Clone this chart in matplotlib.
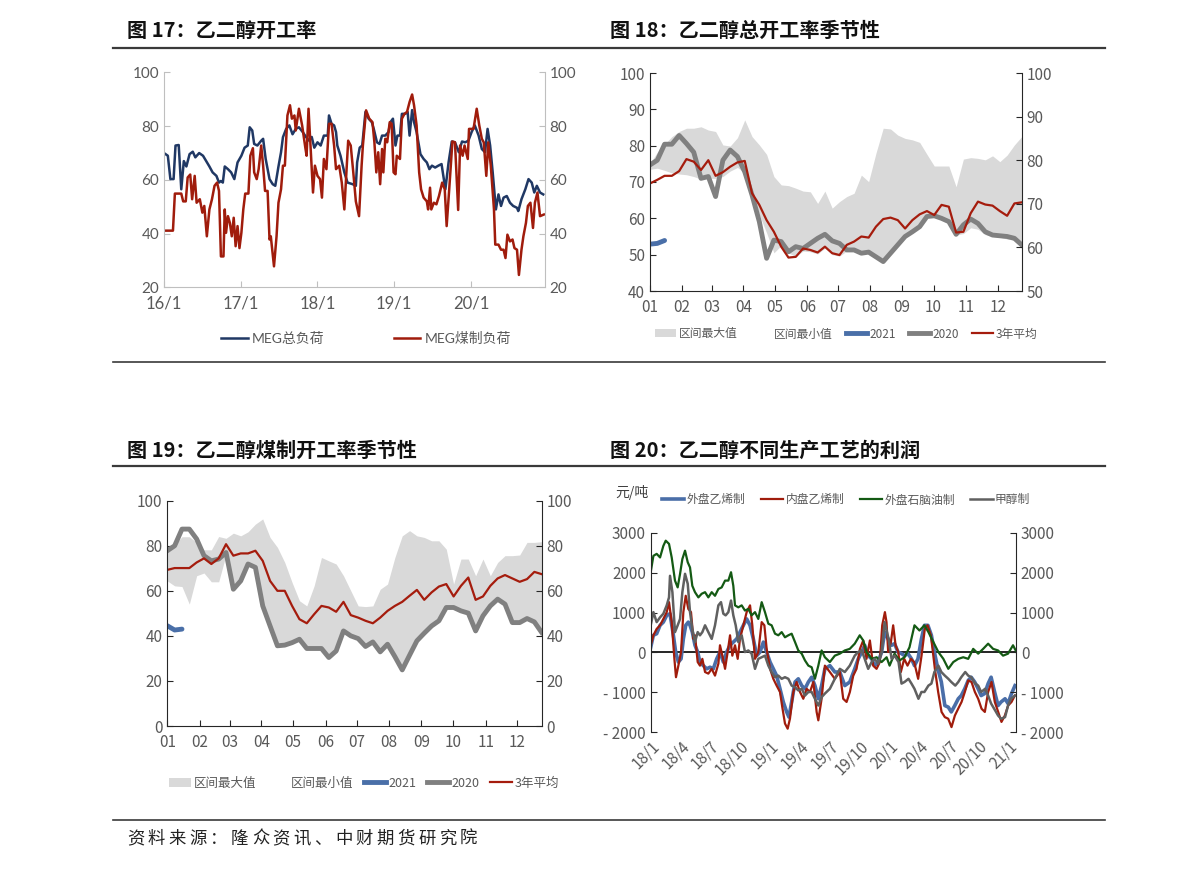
import numpy as np
import matplotlib
matplotlib.use('Agg')
import matplotlib.pyplot as plt
from matplotlib.lines import Line2D
from matplotlib.patches import Patch

plt.rcParams['font.family'] = ['Noto Sans CJK SC', 'DejaVu Sans']

W, H = 1191, 871
TXT = '#595959'
NUM1 = ['Lato', 'Noto Sans CJK SC']
NARROW = ['Liberation Sans Narrow', 'Noto Sans CJK SC']

# ---- 图17 data: months since 2016-01 ----
meg_total_x = [0, 0.6, 1.0, 1.5, 1.8, 2.3, 2.5, 2.7, 3.1, 3.5, 4.0, 4.5, 4.9, 5.5, 6.1, 6.6, 7.1, 7.6, 8.2, 8.6,
               8.9, 9.2, 9.5, 10.0, 10.5, 11.0, 11.5, 12.1, 12.6, 13.1, 13.4, 13.8, 14.1, 14.6, 15.2, 15.5, 15.9, 16.5, 17.0, 17.4,
               17.9, 18.3, 18.6, 19.1, 19.6, 20.1, 20.6, 21.1, 21.7, 22.2, 22.7, 23.1, 23.5, 24.0, 24.5, 25.0, 25.6, 25.8, 26.2, 26.6,
               26.9, 27.1, 27.6, 28.2, 28.7, 29.5, 30.0,
               30.2, 30.6, 31.0, 31.5, 32.0, 32.5, 32.8, 33.3, 33.7, 34.1, 34.6, 35.1, 35.4, 35.8, 36.2, 36.5, 36.9, 37.2, 37.7, 38.1,
               38.4, 38.8, 39.1, 39.5, 40.1, 40.6, 41.1, 41.5, 41.9, 42.4, 42.9, 43.4, 44.0, 44.5, 45.0, 45.5, 46.1, 46.6, 47.1, 47.6,
               48.1, 48.6, 49.2, 49.7, 50.2, 50.6, 51.0, 51.4, 51.9, 52.3, 52.7, 53.1, 53.6, 54.1, 54.6, 55.2, 55.4, 55.9, 56.5, 57.0,
               57.5, 57.9, 58.3, 58.8, 59.3]
meg_total = [70, 69, 60.3, 60.3, 72.8, 73, 65, 56.5, 67, 65, 69.6, 70.5, 68.4, 70, 69, 67, 65, 62.8, 61.5, 59,
             59.6, 59, 65, 64, 62.8, 60.3, 66.5, 69, 72, 72.8, 79.6, 78.4, 73.4, 72.8, 74.6, 75.3, 67.8, 60.3, 58.4, 57.8,
             65, 70.3, 75.9, 79, 80.3, 77, 79, 79.6, 77.8, 76, 74.6, 76, 72, 74, 72.8, 76.5, 76.5, 84, 80.9, 80.3,
             77.8, 72.8, 69, 62.8, 59, 58.4, 57.8,
             66.5, 72, 72.8, 85.3, 82.8, 81.5, 79, 74, 73.4, 76.5, 76.5, 77.8, 81.5, 82.8, 72.8, 76.5, 76.5, 84.6, 84.6, 85.3,
             76.5, 86, 81.5, 77.8, 69.6, 67.8, 66.5, 64, 65.3, 64.6, 65.3, 65.9, 56.5, 66.5, 74.3, 74, 70.3, 74.3, 74, 74.6,
             77.8, 80.3, 76.5, 71.5, 70.3, 79, 72.8, 62.8, 49, 54.6, 50.3, 53.4, 54, 51.5, 50.3, 49.6, 48.4, 52.8, 56.5, 60.3,
             59, 55.3, 57.8, 55.3, 54.6]
meg_coal_x = [0, 1.4, 1.7, 2.7, 3.0, 3.4, 3.7, 4.1, 4.4, 4.8, 5.1, 5.6, 6.0, 6.3, 6.7, 7.1, 7.5, 7.9, 8.3, 8.6,
              8.9, 9.3, 9.5, 9.7, 10.0, 10.3, 10.6, 10.9, 11.2, 11.5, 11.8, 12.1, 12.4, 12.7, 13.2, 13.5, 13.9, 14.1, 14.5, 14.8,
              15.2, 15.5, 15.8, 16.2, 16.5, 16.7, 17.2, 17.6, 17.9, 18.3, 18.6, 18.9, 19.3, 19.7, 20.0, 20.4, 20.6, 21.1, 21.6, 22.1,
              22.3, 22.6, 23.0, 23.3, 23.6, 24.0, 24.4, 24.7, 25.0, 25.4, 25.8, 26.2, 26.6, 26.9, 27.4, 27.8, 28.2, 28.5, 28.8, 29.2,
              29.6, 30.0, 30.5, 30.9, 31.1, 31.6, 32.1, 32.6, 32.9, 33.2, 33.5, 33.8, 34.1, 34.3, 34.6, 34.9, 35.3, 35.6, 35.9, 36.2,
              36.4, 36.9, 37.2, 37.6, 38.0, 38.4, 38.8, 39.1, 39.5, 39.9, 40.2, 40.6, 41.1, 41.3, 41.6, 41.8, 42.2, 42.6, 43.0, 43.5,
              43.9, 44.2, 44.6, 45.1, 45.5, 46.0, 46.3, 46.7, 47.0, 47.5, 47.7, 48.4, 48.9, 49.3, 49.7, 50.0, 50.4, 50.7, 51.1, 51.6,
              51.8, 52.3, 52.7, 53.1, 53.4, 53.7, 54.1, 54.5, 54.8, 55.2, 55.5, 55.9, 56.2, 56.6, 56.9, 57.3, 57.7, 58.0, 58.4, 58.8,
              59.4]
meg_coal = [41.1, 41.1, 54.9, 54.9, 52, 52, 60.9, 62, 52.8, 61.5, 51.5, 52.8, 47.8, 50.3, 39, 49, 52.8, 57.8, 59, 55.9,
            31.5, 31.5, 49, 40.3, 46.5, 44, 39, 45.9, 35.3, 42.8, 34.6, 40.3, 49, 54.9, 54.9, 69, 71.8, 62.8, 60.3, 64,
            72.8, 65.3, 55.9, 55.9, 37.8, 39, 27.8, 39, 51.5, 56.5, 65.3, 65.3, 84, 87.8, 82.8, 84, 78.4, 86.5, 80.3, 72,
            69, 86.5, 68.4, 55.3, 65.3, 61.5, 60.3, 53.4, 67.8, 64, 80.9, 80.9, 72.8, 64, 65.3, 59, 49, 61.5, 74.6, 72.8,
            62.8, 52, 46.5, 65.3, 72.8, 85.9, 82.8, 81.5, 74, 62.8, 70.3, 58.4, 71.5, 62.8, 75.3, 74, 81.5, 80.9, 62.8, 62.1,
            69, 67.8, 82.8, 84.6, 85.3, 89, 91.8, 87.8, 80.3, 62.8, 56.5, 53.4, 52, 49, 57.1, 49, 51.5, 50.9, 54, 59,
            56.5, 42.8, 56.5, 74.3, 74, 48.8, 72.8, 69, 72.8, 67.8, 79, 79, 86.5, 80.3, 75.3, 74, 61.5, 74, 65.3, 49,
            35.9, 35.9, 34, 34, 30.9, 39.6, 37.1, 37.8, 34.6, 34, 24.6, 34, 39, 44, 50.3, 51.5, 42.1, 51.5, 55.3, 46.5,
            47.1]
year_ticks = [0, 12, 24, 36, 48]
year_labels = ['16/1', '17/1', '18/1', '19/1', '20/1']

# ---- seasonal charts: weekly ----
weeks = np.arange(52)
month_ticks = [0, 4.4, 8.5, 12.8, 17.1, 21.6, 25.8, 30.2, 34.6, 38.9, 43.4, 47.7]
month_labels = ['01', '02', '03', '04', '05', '06', '07', '08', '09', '10', '11', '12']

# 图18
max18 = [75.1, 78.2, 80.4, 82.5, 83.9, 84.8, 84.8, 85.2, 84.3, 83.9, 80.2, 79.9, 82.2, 87.1, 82.5, 80.2, 77.6, 71.5, 69.2, 69.0,
         68.3, 67.5, 67.3, 64.1, 67.5, 62.8, 64.6, 66.0, 66.9, 71.9, 70.1, 77.9, 84.8, 84.6, 82.9, 82.0, 81.6, 80.9, 77.6, 74.4,
         74.4, 74.4, 68.7, 76.3, 76.7, 76.5, 76.1, 77.2, 75.6, 77.4, 80.2, 82.5]
min18 = [73.5, 73.8, 73.2, 72.5, 72.2, 72.0, 71.5, 70.8, 71.0, 71.0, 71.5, 73.0, 74.0, 72.5, 66.5, 61.0, 56.0, 50.5, 52.5, 50.5,
         49.5, 51.0, 50.8, 50.2, 51.8, 50.0, 49.6, 51.0, 51.0, 50.2, 50.4, 49.0, 47.8, 50.0, 52.5, 54.8, 56.0, 57.5, 60.2, 60.5,
         59.8, 58.8, 55.4, 55.8, 57.4, 57.0, 55.5, 55.0, 54.8, 54.3, 54.0, 52.5]
y2020_18 = [74.7, 76, 80.4, 80.4, 82.8, 80.6, 78.2, 71, 71.5, 66, 76, 78.8, 77, 72.8, 66.4, 59.1, 49, 54, 53.6, 50.8,
            52.2, 51.7, 53.1, 54.5, 55.6, 53.8, 53.1, 51.3, 51.3, 50.4, 50.7, 49.4, 48.1, 50.4, 52.7, 55, 56.3, 57.7, 60.5, 60.7,
            60, 59.1, 55.6, 58.2, 59.8, 58.6, 56.3, 55.4, 55.2, 55, 54.5, 52.7]
avg18 = [69.6, 70.6, 71.7, 71.7, 73, 76.3, 75.6, 73.3, 76, 71.7, 72.7, 74.2, 75.4, 75.8, 66.9, 63.7, 59.5, 56.3, 52.2, 49.2,
         49.4, 51.7, 51.3, 50.6, 52.2, 50.4, 49.9, 52.7, 53.6, 55, 54.7, 57.7, 59.8, 60.2, 59.5, 57.2, 59.5, 61.1, 62, 60.9,
         63.7, 63.2, 56.1, 56.3, 61.4, 64.6, 63.8, 63.5, 62, 60.7, 64.1, 64.4]
y2021_18 = [52.9, 53.1, 53.9]

# 图19
max19 = [80, 80.5, 84, 84, 81.5, 78.2, 78.2, 84.1, 83.3, 85.6, 84.4, 86.2, 89.6, 91.9, 83.7, 79.3, 72.6, 63.7, 55.6, 53.3,
         62.2, 74.8, 73.3, 71.9, 66.7, 60, 53.3, 53, 53.3, 60.7, 63, 74.8, 84.4, 86.7, 84.4, 83.7, 82.2, 82.2, 78.5, 63,
         74.1, 74.1, 66.7, 74.1, 66.7, 72.6, 75.6, 75.6, 75.9, 81.5, 81.5, 81.8]
min19 = [64.4, 62.2, 61.9, 54.1, 66.7, 67.9, 64.0, 64.0, 76.0, 60.7, 64.4, 71.9, 70.4, 53.3, 44.4, 35.6, 35.9, 37.0, 38.5, 34.4,
         34.4, 34.4, 30.4, 33.3, 42.2, 40.0, 38.8, 35.3, 37.3, 32.9, 36.3, 30.8, 24.9, 31.4, 37.8, 41.2, 44.4, 46.7, 52.6, 52.6,
         51.1, 50.1, 42.2, 48.9, 53.3, 56.3, 54.1, 45.9, 45.9, 47.7, 46.2, 41.5]
y2020_19 = [77.8, 80, 87.4, 87.4, 83, 75.6, 73.3, 74.1, 77, 60.7, 64.4, 71.9, 70.4, 53.3, 44.4, 35.6, 35.9, 37, 38.5, 34.4,
            34.4, 34.4, 30.4, 33.3, 42.2, 40, 38.8, 35.3, 37.3, 32.9, 36.3, 30.8, 24.9, 31.4, 37.8, 41.2, 44.4, 46.7, 52.6, 52.6,
            51.1, 50.1, 42.2, 48.9, 53.3, 56.3, 54.1, 45.9, 45.9, 47.7, 46.2, 41.5]
avg19 = [69.3, 70.1, 70.1, 70.1, 72.6, 74.4, 71.9, 74.4, 80.7, 75.6, 76.6, 76.6, 77.8, 73.3, 64.4, 60, 60, 53.3, 47.4, 45.6,
         49.6, 53.3, 52.6, 50.7, 55.1, 49.2, 48.1, 46.7, 45.6, 48.1, 51.1, 53.3, 55.1, 57.8, 60.4, 56, 59.3, 61.9, 63, 57.5,
         62.2, 65.9, 56, 57.5, 62.2, 65.5, 67, 65.5, 64, 65.2, 68.4, 67.4]
y2021_19 = [44.5, 42.6, 43.0]

# ---- 图20: months since 2018-01, 元/吨 ----
eth_out_x = [0, 0.27, 0.6, 0.94, 1.27, 1.61, 1.94, 2.28, 2.51, 2.78, 3.05, 3.28, 3.52, 3.78, 3.95, 4.18, 4.45, 4.72, 4.95, 5.29,
             5.62, 5.96, 6.29, 6.63, 6.96, 7.3, 7.63, 7.97, 8.3, 8.64, 8.97, 9.31, 9.64, 9.98, 10.31, 10.65, 10.98, 11.32, 11.65, 11.99,
             12.32, 12.65, 12.99, 13.32, 13.66, 13.89, 14.16, 14.5, 14.83, 15.17, 15.5, 15.84, 16.17, 16.5, 16.84, 17.17,
             17.5, 18.0, 18.5, 19.0, 19.5, 20.0, 20.5, 20.85, 21.2, 21.5, 21.85, 22.2, 22.5, 22.85, 23.2, 23.5, 23.85, 24.2, 24.5, 24.85,
             25.2, 25.5, 25.85, 26.2, 26.5, 26.85, 27.2, 27.5, 27.85, 28.2, 28.5, 28.85, 29.2, 29.55, 29.9, 30.2, 30.55, 30.9, 31.2, 31.55,
             31.9, 32.2, 32.55, 32.9, 33.2, 33.55, 33.9, 34.2, 34.55, 34.9, 35.2, 35.6, 35.9, 36.25, 36.6]
eth_out = [130, 430, 470, 680, 760, 930, 970, 430, 10, -240, -160, 340, 680, 760, 680, 510, 180, 10, -240, -330,
           -410, -370, -410, -160, 10, -240, 10, 180, 260, 340, 510, 680, 840, 680, 340, -80, 10, 260, 10, -240,
           -410, -580, -910, -1240, -1490, -1620, -1240, -740, -660, -830, -910, -740, -620, -830, -1160, -830,
           -410, -330, -490, -490, -830, -740, -410, -160, 10, 180, -80, -160, -330, -240, 10, 510, 340, 180, 220, 10,
           -30, -80, -30, -160, -330, -160, 340, 680, 680, 430, 10, -410, -740, -1330, -1370, -1490, -1330, -1160, -1080, -910,
           -700, -620, -740, -910, -1080, -1030, -780, -620, -990, -1330, -1240, -1160, -1280, -1030, -830]
eth_dom_x = [0, 0.27, 0.6, 0.94, 1.27, 1.61, 1.84, 2.11, 2.38, 2.54, 2.78, 3.05, 3.28, 3.52, 3.78, 4.05, 4.29, 4.45, 4.72, 4.95,
             5.19, 5.46, 5.79, 6.13, 6.46, 6.8, 6.96, 7.2, 7.47, 7.73, 7.97, 8.2, 8.47, 8.74, 8.97, 9.31, 9.64, 9.98, 10.21, 10.48,
             10.81, 11.15, 11.42, 11.65, 11.99, 12.32, 12.65, 12.99, 13.22, 13.49, 13.76, 13.99, 14.33, 14.66, 15.0, 15.33, 15.67, 16.0, 16.34, 16.67,
             16.84, 17.17,
             17.5, 18.0, 18.5, 19.0, 19.34, 19.68, 20.01, 20.35, 20.68, 21.02, 21.35, 21.68, 22.02, 22.35, 22.69, 23.02, 23.26, 23.53, 23.69, 23.86,
             24.13, 24.36, 24.6, 24.87, 25.13, 25.47, 25.8, 26.14, 26.47, 26.87, 27.21, 27.54, 27.81, 28.15, 28.55, 28.88, 29.22, 29.55, 29.89, 30.22,
             30.56, 30.89, 31.23, 31.56, 31.9, 32.23, 32.57, 32.9, 33.24, 33.57, 33.9, 34.24, 34.57, 34.91, 35.24, 35.58, 35.91, 36.25, 36.58]
eth_dom = [180, 430, 590, 680, 840, 1010, 1260, 760, -160, -620, -330, 10, 1010, 1420, 1090, 1010, 340, 430, -240, -330,
           -160, -490, -530, -410, -580, -280, 180, -80, -410, 10, 430, -80, 180, -160, 340, 680, 1010, 1180, 680, -160,
           10, 760, 680, 90, -410, -660, -830, -990, -1370, -1780, -1910, -1660, -990, -740, -990, -1160, -910, -990, -740, -1490,
           -1700, -1160,
           -330, -490, -660, -490, -1160, -1240, -990, -580, -410, 90, 300, -160, 300, -330, -410, -240, 680, 1010, 760, 10,
           260, 680, 180, 10, -490, -160, -330, -160, -240, -660, -80, 590, 680, 430, -410, -990, -1490, -1620, -1660, -1870,
           -1580, -1410, -1240, -990, -700, -740, -990, -1160, -1410, -1490, -990, -740, -1240, -1490, -1740, -1580, -1330, -1240, -1080]
naphtha_x = [0, 0.27, 0.6, 0.94, 1.27, 1.51, 1.84, 2.11, 2.44, 2.71, 2.95, 3.18, 3.45, 3.72, 3.95, 4.18, 4.45, 4.79, 5.12, 5.46,
             5.79, 6.13, 6.46, 6.8, 7.13, 7.47, 7.8, 8.07, 8.3, 8.47, 8.8, 9.14, 9.47, 9.81, 10.14, 10.48, 10.81, 11.15, 11.48, 11.82,
             12.15, 12.49, 12.82, 13.16, 13.49, 13.83, 14.16, 14.5, 14.83, 15.17, 15.5, 15.84, 16.17, 16.5, 16.84, 17.17,
             17.5, 18.0, 18.5, 19.0, 19.5, 20.0, 20.5, 21.0, 21.35, 21.7, 22.2, 22.7, 23.2, 23.7, 24.0, 24.5, 25.0, 25.5, 26.0, 26.5,
             27.0, 27.5, 27.9, 28.4, 28.9, 29.4, 29.9, 30.4, 30.9, 31.4, 31.9, 32.4, 32.9, 33.4, 33.9, 34.4, 34.9, 35.4, 35.9, 36.4,
             36.75]
naphtha = [2010, 2420, 2470, 2380, 2670, 2800, 2720, 2380, 1800, 1630, 1970, 2340, 2550, 2260, 2130, 1670, 1510, 1380, 1470, 1510,
           1380, 1510, 1420, 1590, 1630, 1800, 1800, 2010, 1670, 1180, 1130, 1180, 1050, 1090, 930, 1010, 840, 1260, 1010, 720,
           680, 470, 430, 510, 380, 430, 470, 260, 50, -30, -200, -330, -370, -660, -330, 50,
           -120, -240, -80, -30, 50, 90, 220, 430, 300, 10, -160, -120, -240, -120, -330, -30, -200, -120, 130, 680,
           550, 680, 510, 260, 10, -160, -410, -240, -160, -120, -160, 90, -30, 90, 220, 90, 50, -80, -30, 180,
           10]
methanol_x = [0, 0.27, 0.6, 0.94, 1.27, 1.61, 1.84, 1.94, 2.18, 2.44, 2.71, 2.95, 3.18, 3.45, 3.72, 3.95, 4.18, 4.45, 4.72, 4.95,
              5.19, 5.46, 5.79, 6.13, 6.46, 6.8, 7.06, 7.3, 7.53, 7.8, 8.07, 8.3, 8.54, 8.8, 9.14, 9.47, 9.81, 10.14, 10.48, 10.81,
              11.15, 11.48, 11.82, 12.15, 12.49, 12.82, 13.16, 13.49, 13.83, 14.16, 14.5, 14.83, 15.17, 15.5, 15.84, 16.17, 16.5, 16.84, 17.17,
              17.5, 18.0, 18.5, 19.0, 19.5, 20.0, 20.5, 20.85, 21.2, 21.5, 21.85, 22.2, 22.5, 22.85, 23.2, 23.5, 23.9, 24.2, 24.5, 24.9,
              25.2, 25.5, 25.9, 26.2, 26.5, 26.9, 27.2, 27.5, 27.9, 28.2, 28.5, 28.9, 29.2, 29.55, 29.9, 30.2, 30.6, 30.9, 31.2, 31.6,
              31.9, 32.2, 32.6, 32.9, 33.2, 33.6, 33.9, 34.2, 34.6, 34.9, 35.2, 35.6, 35.9, 36.2, 36.6]
methanol = [680, 1010, 760, 880, 970, 1180, 1380, 1920, 1510, 510, 680, 840, 1510, 1970, 1720, 1010, 590, 260, 510, 430,
            510, 680, 510, 340, 680, 1180, 1260, 970, 930, 1010, 1300, 930, 680, 260, 430, 10, 50, -30, -410, -160,
            -120, -80, -330, -490, -620, -580, -660, -620, -660, -830, -870, -950, -910, -1080, -990, -990, -1160, -1330, -1120,
            -1030, -910, -660, -410, -490, -330, -80, 10, 50, -160, -410, -240, -160, -280, 10, 760, 340, -160, -80, -240,
            -780, -740, -660, -780, -910, -1160, -990, -990, -830, -780, -490, -330, -490, -580, -660, -740, -830, -740, -620, -490,
            -580, -620, -780, -830, -990, -910, -1080, -1280, -1450, -1580, -1660, -1620, -1330, -1160, -1080]
quarter_ticks = [0, 3, 6, 9, 12, 15, 18, 21, 24, 27, 30, 33, 36]
quarter_labels = ['18/1', '18/4', '18/7', '18/10', '19/1', '19/4', '19/7', '19/10',
                  '20/1', '20/4', '20/7', '20/10', '21/1']

source_text = '资料来源：隆众资讯、中财期货研究院'


def box(l, t, r, b):
    return [l / W, 1 - b / H, (r - l) / W, (b - t) / H]


def style(ax, sides, color, labelfont, size):
    for s in ax.spines:
        ax.spines[s].set_visible(s in sides)
        ax.spines[s].set_color(color)
    ax.tick_params(direction='in', color=color, length=4, labelcolor=TXT, labelsize=size)
    for lab in ax.get_xticklabels() + ax.get_yticklabels():
        lab.set_family(labelfont)


def hline(y, x0=113, x1=1105, lw=1.6):
    fig.add_artist(Line2D([x0 / W, x1 / W], [1 - y / H, 1 - y / H], color='#3a3a3a', lw=lw))


fig = plt.figure(figsize=(W / 100, H / 100), dpi=100)

# headings and rules
for x, y, t in [(127, 30, '图 17：乙二醇开工率'), (610, 30, '图 18：乙二醇总开工率季节性'),
                (127, 450, '图 19：乙二醇煤制开工率季节性'), (610, 450, '图 20：乙二醇不同生产工艺的利润')]:
    fig.text(x / W, 1 - y / H, t, fontsize=14.5, fontweight='bold', va='center', color='#111111')
hline(48)
hline(362, lw=1.2)
hline(466)
hline(820, lw=1.2)
# source line, spaced out like the original
for i, ch in enumerate(source_text):
    fig.text((127 + i * 20.8) / W, 1 - 839 / H, ch, fontsize=12.5, va='center', color='#222222')

# ---- 图17 ----
ax1 = fig.add_axes(box(164, 72.5, 544.5, 287.3))
ax1.plot(meg_total_x, meg_total, color='#203864', lw=1.8)
ax1.plot(meg_coal_x, meg_coal, color='#a01c0c', lw=1.8)
ax1.set_xlim(0, 59.5)
ax1.set_ylim(20, 100)
ax1.set_yticks(range(20, 101, 20))
ax1.set_xticks(year_ticks, year_labels)
style(ax1, ['left', 'bottom'], '#bfbfbf', NUM1, 11)
ax1.tick_params(axis='x', labelsize=12, pad=6)
ax1r = ax1.twinx()
ax1r.set_ylim(20, 100)
ax1r.set_yticks(range(20, 101, 20))
style(ax1r, ['right'], '#bfbfbf', NUM1, 11)
fig.legend([Line2D([], [], color='#203864', lw=1.8), Line2D([], [], color='#a01c0c', lw=1.8)],
           ['MEG总负荷', 'MEG煤制负荷'], loc='center', bbox_to_anchor=(366 / W, 1 - 338 / H), ncol=2,
           frameon=False, handlelength=1.9, handletextpad=0.3, columnspacing=5.0,
           prop={'family': NUM1, 'size': 10}, labelcolor=TXT)


def seasonal(rect, vmin, vmax, y2020, avg, y2021, ylim, yticks, rlim, rticks, legend_xy, fs, cs):
    ax = fig.add_axes(rect)
    ax.fill_between(weeks, vmin, vmax, color='#d9d9d9', lw=0)
    ax.plot(weeks, y2020, color='#808080', lw=3.5)
    ax.plot(weeks[:len(y2021)], y2021, color='#4a6fa8', lw=3.5, solid_capstyle='round')
    ax.plot(weeks, avg, color='#a51c0d', lw=1.6)
    ax.set_xlim(0, 51)
    ax.set_ylim(*ylim)
    ax.set_yticks(yticks)
    ax.set_xticks(month_ticks, month_labels)
    style(ax, ['left', 'bottom'], '#262626', NARROW, 11)
    ax.tick_params(axis='x', pad=6)
    axr = ax.twinx()
    axr.set_ylim(*rlim)
    axr.set_yticks(rticks)
    style(axr, ['right'], '#262626', NARROW, 11)
    handles = [Patch(facecolor='#d9d9d9'), Patch(facecolor='white'),
               Line2D([], [], color='#4a6fa8', lw=3.5), Line2D([], [], color='#808080', lw=3.5),
               Line2D([], [], color='#a51c0d', lw=1.6)]
    fig.legend(handles, ['区间最大值', '区间最小值', '2021', '2020', '3年平均'], loc='center',
               bbox_to_anchor=legend_xy, ncol=5, frameon=False, handlelength=1.8, handletextpad=0.2,
               columnspacing=cs, prop={'family': NARROW, 'size': fs}, labelcolor=TXT)
    return ax


seasonal(box(650, 73, 1021.7, 291), min18, max18, y2020_18, avg18, y2021_18,
         (40, 100), range(40, 101, 10), (50, 100), range(50, 101, 10), (846 / W, 1 - 334 / H), 8.5, 1.1)
seasonal(box(167.3, 500.7, 541.7, 726), min19, max19, y2020_19, avg19, y2021_19,
         (0, 100), range(0, 101, 20), (0, 100), range(0, 101, 20), (364 / W, 1 - 783 / H), 9, 0.8)

# ---- 图20 ----
ax4 = fig.add_axes(box(650.7, 532.7, 1016, 732.3))
ax4.axhline(0, color='black', lw=1.2, zorder=1)
ax4.plot(eth_out_x, eth_out, color='#4a6ea8', lw=2.6, label='外盘乙烯制')
ax4.plot(eth_dom_x, eth_dom, color='#a01c0c', lw=1.6, label='内盘乙烯制')
ax4.plot(naphtha_x, naphtha, color='#145a14', lw=1.6, label='外盘石脑油制')
ax4.plot(methanol_x, methanol, color='#606060', lw=1.8, label='甲醇制')
ax4.set_xlim(0, 36.7)
ax4.set_ylim(-2000, 3000)
yt = list(range(-2000, 3001, 1000))
ylab = ['- %d' % abs(v) if v < 0 else '%d' % v for v in yt]
ax4.set_yticks(yt, ylab)
ax4.set_xticks(quarter_ticks, quarter_labels, rotation=45, ha='right', rotation_mode='anchor')
style(ax4, ['left'], '#262626', NARROW, 11)
ax4.tick_params(axis='x', length=0, pad=4)
ax4r = ax4.twinx()
ax4r.set_ylim(-2000, 3000)
ax4r.set_yticks(yt, ylab)
style(ax4r, ['right'], '#262626', NARROW, 11)
fig.text(615 / W, 1 - 492 / H, '元/吨', fontsize=10, va='center', color='#404040')
fig.legend(*ax4.get_legend_handles_labels(), loc='center', bbox_to_anchor=(846 / W, 1 - 500 / H), ncol=4,
           frameon=False, handlelength=1.9, handletextpad=0.2, columnspacing=1.3,
           prop={'family': NARROW, 'size': 8.5}, labelcolor=TXT)

fig.savefig('out.png', dpi=100)
